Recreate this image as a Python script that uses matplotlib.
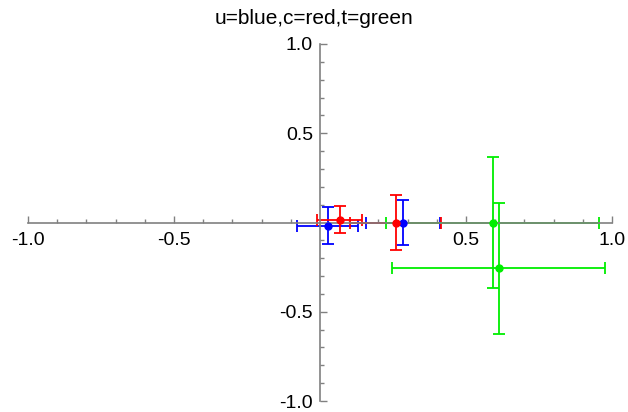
import matplotlib
matplotlib.use("Agg")
import matplotlib.pyplot as plt
import numpy as np

plt.rcParams['font.family'] = ['Liberation Sans', 'DejaVu Sans']

# u (blue), c (red), t (green): centre x, centre y, symmetric error (same in x and y)
u_x = [0.026, 0.283]
u_y = [-0.018, 0.0]
u_err = [0.105, 0.127]

c_x = [0.068, 0.259]
c_y = [0.016, 0.0]
c_err = [0.077, 0.155]

t_x = [0.591, 0.612]
t_y = [0.0, -0.257]
t_err = [0.365, 0.365]

major = [-1.0, -0.5, 0.5, 1.0]
major_labels = ["-1.0", "-0.5", "0.5", "1.0"]

fig = plt.figure(figsize=(6.28, 4.12), dpi=100)
ax = fig.add_axes([28 / 628, (412 - 401) / 412, (612 - 28) / 628, (401 - 44) / 412])

series = [(u_x, u_y, u_err, "#0000ff"), (c_x, c_y, c_err, "#ff0000"), (t_x, t_y, t_err, "#00ee00")]
for xs, ys, err, col in series:
    ax.errorbar(xs, ys, xerr=err, yerr=err, fmt="none", ecolor=col,
                elinewidth=1.3, capsize=4, capthick=1.3, zorder=2)
    ax.plot(xs, ys, "o", color=col, markersize=5, zorder=3)

ax.set_xlim(-1, 1)
ax.set_ylim(-1, 1)

for side in ("top", "right"):
    ax.spines[side].set_visible(False)
for side in ("left", "bottom"):
    ax.spines[side].set_position(("data", 0))
    ax.spines[side].set_color("#808080")
    ax.spines[side].set_linewidth(1.2)
    ax.spines[side].set_zorder(2.5)

minor = [v for v in np.round(np.arange(-1, 1.01, 0.1), 1) if v not in major and v != 0]
ax.set_xticks(major)
ax.set_xticklabels(major_labels)
ax.set_yticks(major)
ax.set_yticklabels(major_labels)
ax.set_xticks(minor, minor=True)
ax.set_yticks(minor, minor=True)
ax.tick_params(which="both", direction="in", color="#808080", width=1.0, labelsize=14)
ax.tick_params(which="major", length=5)
ax.tick_params(which="minor", length=3)
ax.tick_params(axis="x", which="major", pad=6.5)
ax.tick_params(axis="y", which="major", pad=5)

ax.patch.set_visible(False)
fig.text(0.5, 1 - 24.3 / 412, "u=blue,c=red,t=green", ha="center", va="baseline", fontsize=15)

fig.savefig("out.png", dpi=100)
